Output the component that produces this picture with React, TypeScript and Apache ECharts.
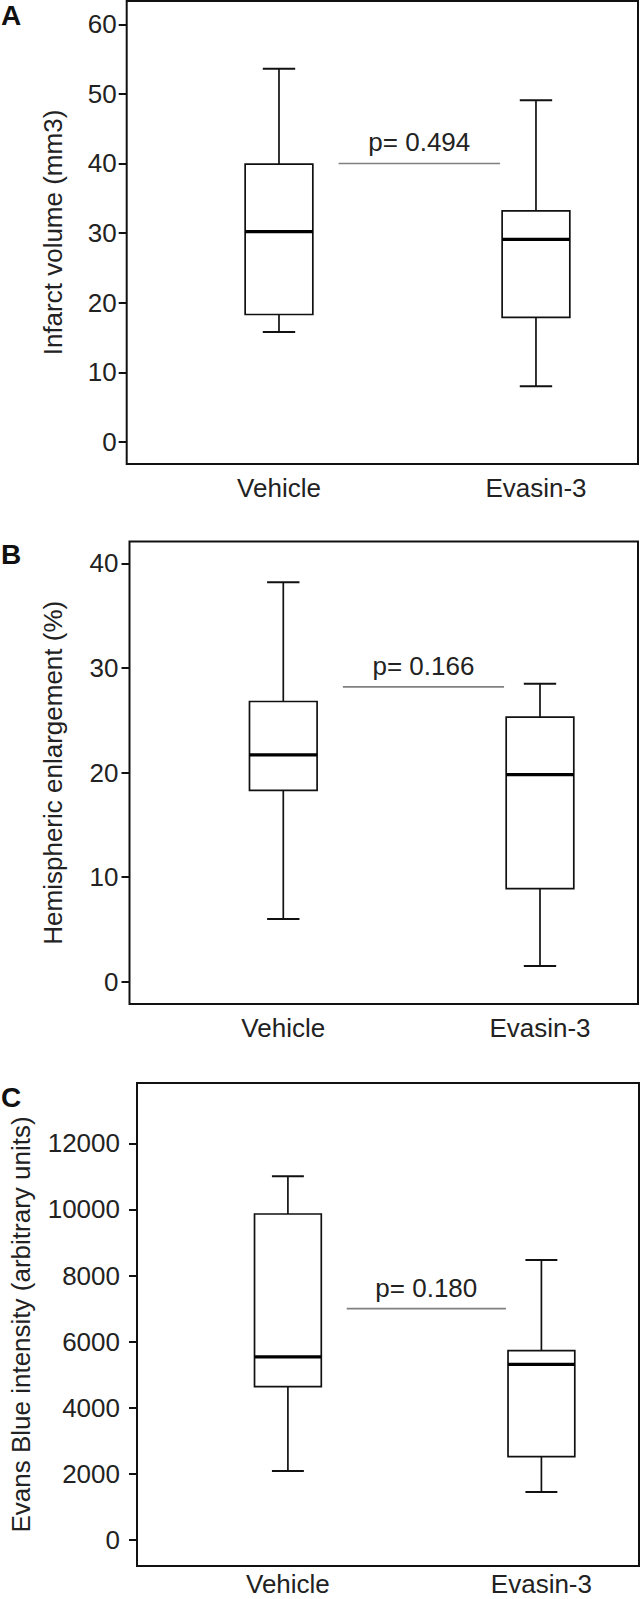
import React, { useEffect, useRef } from "react";
import * as echarts from "echarts";

const FONT = "'Liberation Sans', Arial, Helvetica, sans-serif";

const groups = ["Vehicle", "Evasin-3"];
const groupPositions = [1, 2];

// whisker-box values: [min, Q1, median, Q3, max]
const infarctVehicle = [15.8, 18.3, 30.2, 39.9, 53.6];
const infarctEvasin = [8.0, 17.9, 29.1, 33.2, 49.1];
const hemiVehicle = [6.0, 18.3, 21.7, 26.8, 38.2];
const hemiEvasin = [1.5, 8.9, 19.8, 25.3, 28.5];
const evansVehicle = [2090, 4640, 5540, 9860, 11000];
const evansEvasin = [1450, 2520, 5310, 5730, 8470];

const infarctTicks = [0, 10, 20, 30, 40, 50, 60];
const hemiTicks = [0, 10, 20, 30, 40];
const evansTicks = [0, 2000, 4000, 6000, 8000, 10000, 12000];

const pLabels = ["p= 0.494", "p= 0.166", "p= 0.180"];
const pLevels = [40, 28.2, 7000];

const panelLetters = ["A", "B", "C"];
const yTitles = [
  "Infarct volume (mm3)",
  "Hemispheric enlargement (%)",
  "Evans Blue intensity (arbitrary units)",
];

const panelData = [
  { vehicle: infarctVehicle, evasin: infarctEvasin, ticks: infarctTicks },
  { vehicle: hemiVehicle, evasin: hemiEvasin, ticks: hemiTicks },
  { vehicle: evansVehicle, evasin: evansEvasin, ticks: evansTicks },
];

// layout of each panel (pixels / axis extents)
const layout = [
  { left: 126.7, top: 1, width: 511.3, height: 463, yMin: -3.18, yMax: 63.35, xMin: 0.4074, xMax: 2.397, nameGap: 61, yLabelMargin: 10, xLabelMargin: 12.6, letterY: 15 },
  { left: 129.5, top: 541.5, width: 508.5, height: 462.5, yMin: -2.13, yMax: 42.1, xMin: 0.4009, xMax: 2.3818, nameGap: 63.5, yLabelMargin: 11, xLabelMargin: 12.6, letterY: 554 },
  { left: 130, top: 1083, width: 509, height: 483, yMin: -786, yMax: 13823, xMin: 0.4047, xMax: 2.385, nameGap: 103, yLabelMargin: 17, xLabelMargin: 6.5, letterY: 1097.5 },
];

const renderBox = (params: any, api: any) => {
  const x = api.value(0);
  const pMin = api.coord([x, api.value(1)]);
  const pQ1 = api.coord([x, api.value(2)]);
  const pMed = api.coord([x, api.value(3)]);
  const pQ3 = api.coord([x, api.value(4)]);
  const pMax = api.coord([x, api.value(5)]);
  const hw = api.size([0.1317, 0])[0];
  const cw = api.size([0.063, 0])[0];
  const cx = pMed[0];
  const thin = { stroke: "#111", lineWidth: 1.7 };
  return {
    type: "group",
    children: [
      { type: "line", shape: { x1: cx, y1: pMax[1], x2: cx, y2: pQ3[1] }, style: thin },
      { type: "line", shape: { x1: cx, y1: pQ1[1], x2: cx, y2: pMin[1] }, style: thin },
      { type: "line", shape: { x1: cx - cw, y1: pMax[1], x2: cx + cw, y2: pMax[1] }, style: { stroke: "#111", lineWidth: 2 } },
      { type: "line", shape: { x1: cx - cw, y1: pMin[1], x2: cx + cw, y2: pMin[1] }, style: { stroke: "#111", lineWidth: 2 } },
      {
        type: "rect",
        shape: { x: cx - hw, y: pQ3[1], width: 2 * hw, height: pQ1[1] - pQ3[1] },
        style: { fill: "#fff", stroke: "#111", lineWidth: 1.7 },
      },
      { type: "line", shape: { x1: cx - hw, y1: pMed[1], x2: cx + hw, y2: pMed[1] }, style: { stroke: "#000", lineWidth: 3.2 } },
    ],
  };
};

const makeRenderP = (label: string) => (params: any, api: any) => {
  const y = api.value(1);
  const a = api.coord([1.232, y]);
  const b = api.coord([1.86, y]);
  const c = api.coord([api.value(0), y]);
  return {
    type: "group",
    children: [
      { type: "line", shape: { x1: a[0], y1: a[1], x2: b[0], y2: b[1] }, style: { stroke: "#808080", lineWidth: 1.6 } },
      {
        type: "text",
        x: c[0],
        y: c[1] - 21,
        style: {
          text: label,
          fill: "#222",
          fontSize: 26,
          fontFamily: FONT,
          align: "center",
          verticalAlign: "middle",
          textAlign: "center",
          textVerticalAlign: "middle",
        },
      },
    ],
  };
};

export default function App() {
  const ref = useRef<HTMLDivElement>(null);

  useEffect(() => {
    if (!ref.current) return;
    const chart = echarts.init(ref.current, undefined, { renderer: "svg" });

    const grid: any[] = [];
    const xAxis: any[] = [];
    const yAxis: any[] = [];
    const series: any[] = [];
    const graphic: any[] = [];

    layout.forEach((L, i) => {
      const d = panelData[i];
      grid.push({
        left: L.left,
        top: L.top,
        width: L.width,
        height: L.height,
        show: true,
        borderColor: "#111",
        borderWidth: 2,
        backgroundColor: "transparent",
        containLabel: false,
      });
      xAxis.push({
        gridIndex: i,
        type: "value",
        min: L.xMin,
        max: L.xMax,
        axisLine: { show: false },
        axisTick: { show: false },
        splitLine: { show: false },
        axisLabel: {
          customValues: groupPositions,
          formatter: (v: number) => groups[Math.round(v) - 1] ?? "",
          fontSize: 26,
          lineHeight: 22,
          fontFamily: FONT,
          color: "#222",
          margin: L.xLabelMargin,
        },
      });
      yAxis.push({
        gridIndex: i,
        type: "value",
        min: L.yMin,
        max: L.yMax,
        name: yTitles[i],
        nameLocation: "middle",
        nameRotate: 90,
        nameGap: L.nameGap,
        nameTextStyle: { fontSize: 26, fontFamily: FONT, color: "#222" },
        axisLine: { show: false },
        splitLine: { show: false },
        axisTick: {
          show: true,
          customValues: d.ticks,
          length: 8,
          inside: false,
          lineStyle: { color: "#111", width: 2 },
        },
        axisLabel: {
          customValues: d.ticks,
          formatter: (v: number) => String(v),
          fontSize: 26,
          fontFamily: FONT,
          color: "#222",
          margin: L.yLabelMargin,
        },
      });
      series.push({
        type: "custom",
        coordinateSystem: "cartesian2d",
        xAxisIndex: i,
        yAxisIndex: i,
        silent: true,
        encode: { x: 0, y: [1, 2, 3, 4, 5] },
        data: [
          [groupPositions[0], ...d.vehicle],
          [groupPositions[1], ...d.evasin],
        ],
        renderItem: renderBox,
      });
      series.push({
        type: "custom",
        coordinateSystem: "cartesian2d",
        xAxisIndex: i,
        yAxisIndex: i,
        silent: true,
        encode: { x: 0, y: 1 },
        data: [[1.546, pLevels[i]]],
        renderItem: makeRenderP(pLabels[i]),
      });
      graphic.push({
        type: "text",
        x: 1,
        y: L.letterY,
        style: {
          text: panelLetters[i],
          fill: "#111",
          fontSize: 28,
          fontWeight: "bold",
          fontFamily: FONT,
          align: "left",
          verticalAlign: "middle",
          textAlign: "left",
          textVerticalAlign: "middle",
        },
      });
    });

    chart.setOption({
      animation: false,
      backgroundColor: "#fff",
      textStyle: { fontFamily: FONT },
      grid,
      xAxis,
      yAxis,
      series,
      graphic,
    });

    return () => chart.dispose();
  }, []);

  return (
    <div
      ref={ref}
      style={{ position: "absolute", left: 0, top: 0, width: 641, height: 1599 }}
    />
  );
}
